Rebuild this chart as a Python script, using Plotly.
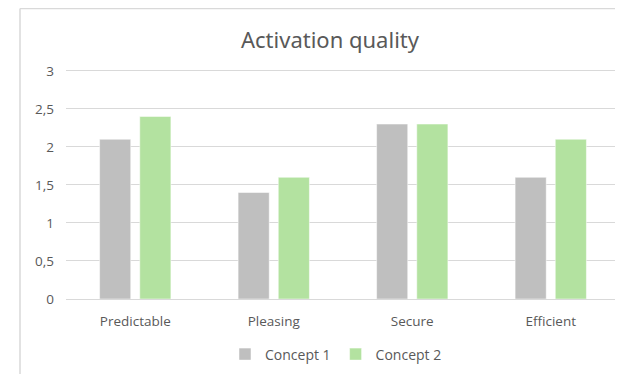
import plotly.graph_objects as go

categories = ["Predictable", "Pleasing", "Secure", "Efficient"]
concept_1 = [2.1, 1.4, 2.3, 1.6]
concept_2 = [2.4, 1.6, 2.3, 2.1]
y_ticks = [0, 0.5, 1, 1.5, 2, 2.5, 3]

# the page body has an 8px margin, so the figure sits at (8, 8)
OFF = 8
W, H = 623 - OFF, 374 - OFF
L, R, T, B = 66 - OFF, 3, 67 - OFF, 73
pw, ph = W - L - R, H - T - B


def px_x(px):
    return (px - OFF - L) / pw


def px_y(py):
    return (374 - B - py) / ph


fig = go.Figure()
fig.add_trace(go.Bar(x=categories, y=concept_1, name="Concept 1",
                     marker=dict(color="#BFBFBF", line=dict(color="white", width=0.5))))
fig.add_trace(go.Bar(x=categories, y=concept_2, name="Concept 2",
                     marker=dict(color="#B3E2A0", line=dict(color="white", width=0.5))))

# frame of the surrounding sheet
line_col = "#D9D9D9"
fig.add_shape(type="line", xref="paper", yref="paper",
              x0=px_x(20), x1=px_x(20), y0=px_y(8), y1=px_y(380), line=dict(color=line_col, width=1.5))
fig.add_shape(type="line", xref="paper", yref="paper",
              x0=px_x(20), x1=px_x(630), y0=px_y(8), y1=px_y(8), line=dict(color=line_col, width=1.5))

fig.update_layout(
    width=W, height=H,
    margin=dict(l=L, r=R, t=T, b=B),
    paper_bgcolor="white", plot_bgcolor="white",
    separators=", ",
    font=dict(family="Open Sans", color="#595959", size=12),
    title=dict(text="Activation quality", x=(330 - OFF) / W, xanchor="center",
               y=1 - (40 - OFF) / H, yanchor="middle",
               font=dict(family="Noto Sans", size=22, color="#595959")),
    barmode="group", bargap=0.42, bargroupgap=0.225,
    xaxis=dict(showgrid=False, showline=True, linecolor="#D9D9D9", linewidth=1,
               ticks="", ticklabelstandoff=10,
               tickfont=dict(family="Open Sans", size=13.5, color="#595959")),
    yaxis=dict(range=[0, 3.05], tickvals=y_ticks, showgrid=True, gridcolor="#D9D9D9",
               gridwidth=1, zeroline=False, showline=False, ticks="",
               ticklabelstandoff=11,
               tickfont=dict(family="Open Sans", size=13.5, color="#595959")),
    legend=dict(orientation="h", x=px_x(336), xanchor="center",
                y=px_y(357), yanchor="middle", itemwidth=30,
                font=dict(family="Open Sans", size=14, color="#595959")),
)

fig.write_html("out.html")
